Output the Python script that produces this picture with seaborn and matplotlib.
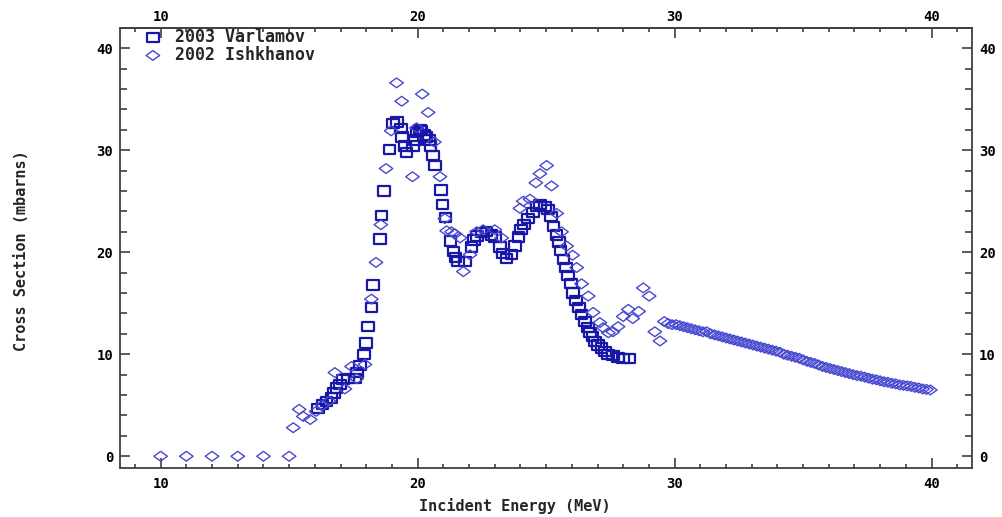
import numpy as np
import pandas as pd
import matplotlib
matplotlib.use("Agg")
import matplotlib.pyplot as plt
from matplotlib.path import Path
from matplotlib.ticker import MultipleLocator
import seaborn as sns

# 2003 Varlamov (squares)
varlamov_e = [16.13, 16.30, 16.46, 16.65, 16.74, 16.85, 16.98, 17.10, 17.30, 17.56,
              17.65, 17.76, 17.91, 17.99, 18.08, 18.21, 18.27, 18.53, 18.60, 18.70,
              18.90, 19.05, 19.20, 19.35, 19.40, 19.50, 19.57, 19.83, 19.90, 19.98,
              20.10, 20.15, 20.25, 20.35, 20.45, 20.50, 20.60, 20.67, 20.90, 20.97,
              21.09, 21.28, 21.40, 21.48, 21.58, 21.84, 22.10, 22.20, 22.30, 22.50,
              22.68, 22.88, 23.00, 23.20, 23.33, 23.46, 23.66, 23.79, 23.92, 24.02,
              24.15, 24.30, 24.48, 24.63, 24.76, 24.95, 25.08, 25.19, 25.28, 25.41,
              25.51, 25.56, 25.67, 25.77, 25.86, 25.96, 26.05, 26.16, 26.29, 26.38,
              26.51, 26.62, 26.70, 26.81, 26.90, 27.03, 27.16, 27.29, 27.42, 27.60,
              27.80, 28.00, 28.25]
varlamov_xs = [4.7, 5.1, 5.4, 5.7, 6.2, 6.7, 7.0, 7.5, 7.6, 7.6,
               8.2, 8.9, 10.0, 11.1, 12.7, 14.6, 16.8, 21.3, 23.6, 26.0,
               30.1, 32.6, 32.75, 32.1, 31.3, 30.4, 29.8, 30.4, 31.0, 31.7,
               32.0, 31.9, 31.5, 31.3, 31.0, 30.4, 29.5, 28.5, 26.1, 24.7,
               23.4, 21.1, 20.1, 19.5, 19.1, 19.1, 20.5, 21.2, 21.6, 21.9,
               22.0, 21.7, 21.5, 20.5, 19.9, 19.4, 19.75, 20.6, 21.5, 22.2,
               22.7, 23.3, 23.9, 24.5, 24.65, 24.5, 24.2, 23.5, 22.5, 21.7,
               21.0, 20.2, 19.3, 18.5, 17.7, 16.9, 16.0, 15.3, 14.6, 13.9,
               13.2, 12.6, 12.1, 11.75, 11.25, 10.9, 10.6, 10.3, 10.0, 9.9,
               9.7, 9.6, 9.55]

# 2002 Ishkhanov (diamonds)
ishkhanov_e = [10.0, 11.0, 12.0, 13.0, 14.0, 15.0, 15.16, 15.39, 15.55, 15.82,
               16.05, 16.30, 16.55, 16.78, 17.17, 17.43, 17.63, 17.95, 18.20, 18.38,
               18.57, 18.77, 18.97, 19.18, 19.38, 19.80, 19.96, 20.18, 20.41, 20.65,
               20.87, 21.06, 21.13, 21.32, 21.45, 21.65, 21.78, 22.04, 22.30, 22.55,
               23.00, 23.27, 23.98, 24.11, 24.37, 24.60, 24.76, 25.02, 25.21, 25.41,
               25.60, 25.80, 26.03, 26.19, 26.38, 26.64, 26.83, 27.09, 27.22, 27.42,
               27.60, 27.80, 28.00, 28.20, 28.37, 28.60, 28.78, 29.01, 29.23, 29.43,
               29.60, 29.75, 29.90, 30.05, 30.20, 30.35, 30.50, 30.65, 30.80, 30.95,
               31.10, 31.25, 31.40, 31.55, 31.70, 31.85, 32.00, 32.15, 32.30, 32.45,
               32.60, 32.75, 32.90, 33.05, 33.20, 33.35, 33.50, 33.65, 33.80, 33.95,
               34.10, 34.25, 34.40, 34.55, 34.70, 34.85, 35.00, 35.15, 35.30, 35.45,
               35.60, 35.75, 35.90, 36.05, 36.20, 36.35, 36.50, 36.65, 36.80, 36.95,
               37.10, 37.25, 37.40, 37.55, 37.70, 37.85, 38.00, 38.15, 38.30, 38.45,
               38.60, 38.75, 38.90, 39.05, 39.20, 39.35, 39.50, 39.65, 39.80, 39.95]
ishkhanov_xs = [0.0, 0.0, 0.0, 0.0, 0.0, 0.0, 2.8, 4.6, 3.9, 3.6,
                4.4, 5.0, 5.4, 8.2, 6.6, 8.8, 7.6, 9.0, 15.4, 19.0,
                22.7, 28.2, 31.9, 36.6, 34.8, 27.4, 32.2, 35.5, 33.7, 30.8,
                27.4, 23.3, 22.1, 22.0, 21.8, 21.4, 18.1, 19.75, 22.0, 22.2,
                22.2, 21.4, 24.3, 25.0, 25.2, 26.8, 27.7, 28.5, 26.5, 23.8,
                22.0, 20.6, 19.7, 18.5, 16.9, 15.7, 14.1, 13.1, 12.6, 12.1,
                12.2, 12.7, 13.7, 14.4, 13.5, 14.2, 16.5, 15.7, 12.2, 11.3,
                13.2, 13.0, 12.9, 12.9, 12.8, 12.7, 12.6, 12.5, 12.4, 12.3,
                12.2, 12.2, 12.0, 11.9, 11.8, 11.7, 11.6, 11.5, 11.4, 11.3,
                11.2, 11.1, 11.0, 10.9, 10.8, 10.7, 10.6, 10.5, 10.4, 10.3,
                10.2, 10.0, 9.9, 9.8, 9.7, 9.6, 9.45, 9.3, 9.2, 9.1,
                8.95, 8.8, 8.7, 8.6, 8.5, 8.4, 8.3, 8.2, 8.1, 8.0,
                7.9, 7.85, 7.75, 7.65, 7.55, 7.5, 7.4, 7.3, 7.25, 7.15,
                7.1, 7.0, 6.95, 6.9, 6.85, 6.75, 6.7, 6.6, 6.55, 6.5]

x_ticks = [10, 20, 30, 40]
y_ticks = [0, 10, 20, 30, 40]

sns.set_style("ticks")
plt.rcParams["font.family"] = ["DejaVu Sans Mono"]
plt.rcParams["font.weight"] = "bold"

# slightly wide markers like the original
rect = Path([(-1, -0.8), (1, -0.8), (1, 0.8), (-1, 0.8), (-1, -0.8)],
            [Path.MOVETO, Path.LINETO, Path.LINETO, Path.LINETO, Path.CLOSEPOLY])
diamond = Path([(-1, 0), (0, 0.72), (1, 0), (0, -0.72), (-1, 0)],
               [Path.MOVETO, Path.LINETO, Path.LINETO, Path.LINETO, Path.CLOSEPOLY])

df_v = pd.DataFrame({"energy": varlamov_e, "xs": varlamov_xs})
df_i = pd.DataFrame({"energy": ishkhanov_e, "xs": ishkhanov_xs})

fig = plt.figure(figsize=(10.02, 5.17), dpi=100)
ax = fig.add_axes([0.1198, 0.0954, 0.8502, 0.8499])

sns.scatterplot(data=df_v, x="energy", y="xs", ax=ax, marker=rect, s=70,
                facecolor="none", edgecolor="#1818a8", linewidth=1.6,
                label="2003 Varlamov")
sns.scatterplot(data=df_i, x="energy", y="xs", ax=ax, marker=diamond, s=95,
                facecolor="none", edgecolor="#4848d0", linewidth=1.0,
                label="2002 Ishkhanov")

ax.set_xlim(8.42, 41.57)
ax.set_ylim(-1.12, 41.95)
ax.set_xticks(x_ticks)
ax.set_yticks(y_ticks)
ax.xaxis.set_minor_locator(MultipleLocator(1))
ax.yaxis.set_minor_locator(MultipleLocator(2))
ax.tick_params(which="both", direction="in", top=True, right=True,
               labeltop=False, labelright=True, colors="#404040",
               labelcolor="black", labelsize=10, width=1.2)
ax.tick_params(which="major", length=7)
ax.tick_params(axis="x", which="major", pad=7)
ax.tick_params(axis="y", which="major", pad=5)
ax.tick_params(axis="x", which="minor", length=3)
ax.tick_params(axis="y", which="minor", length=5)
for sp in ax.spines.values():
    sp.set_color("#404040")
    sp.set_linewidth(1.3)

# top tick labels sit closer to the frame than the bottom ones
top = ax.secondary_xaxis("top")
top.set_xticks(x_ticks)
top.tick_params(length=0, pad=3, labelsize=10, labelcolor="black")
top.spines["top"].set_color("#404040")
top.spines["top"].set_linewidth(1.3)

ax.set_xlabel("Incident Energy (MeV)", fontsize=11, fontweight="bold")
ax.set_ylabel("Cross Section (mbarns)", fontsize=11, fontweight="bold")
ax.xaxis.set_label_coords(0.4636, -0.068)
ax.yaxis.set_label_coords(-0.107, 0.495)

leg = ax.legend(loc="upper left", frameon=False, fontsize=12, handletextpad=0.75,
                borderaxespad=0.1, labelspacing=0.0, handlelength=1.2,
                bbox_to_anchor=(0.017, 1.02))

fig.savefig("out.png", dpi=100)
